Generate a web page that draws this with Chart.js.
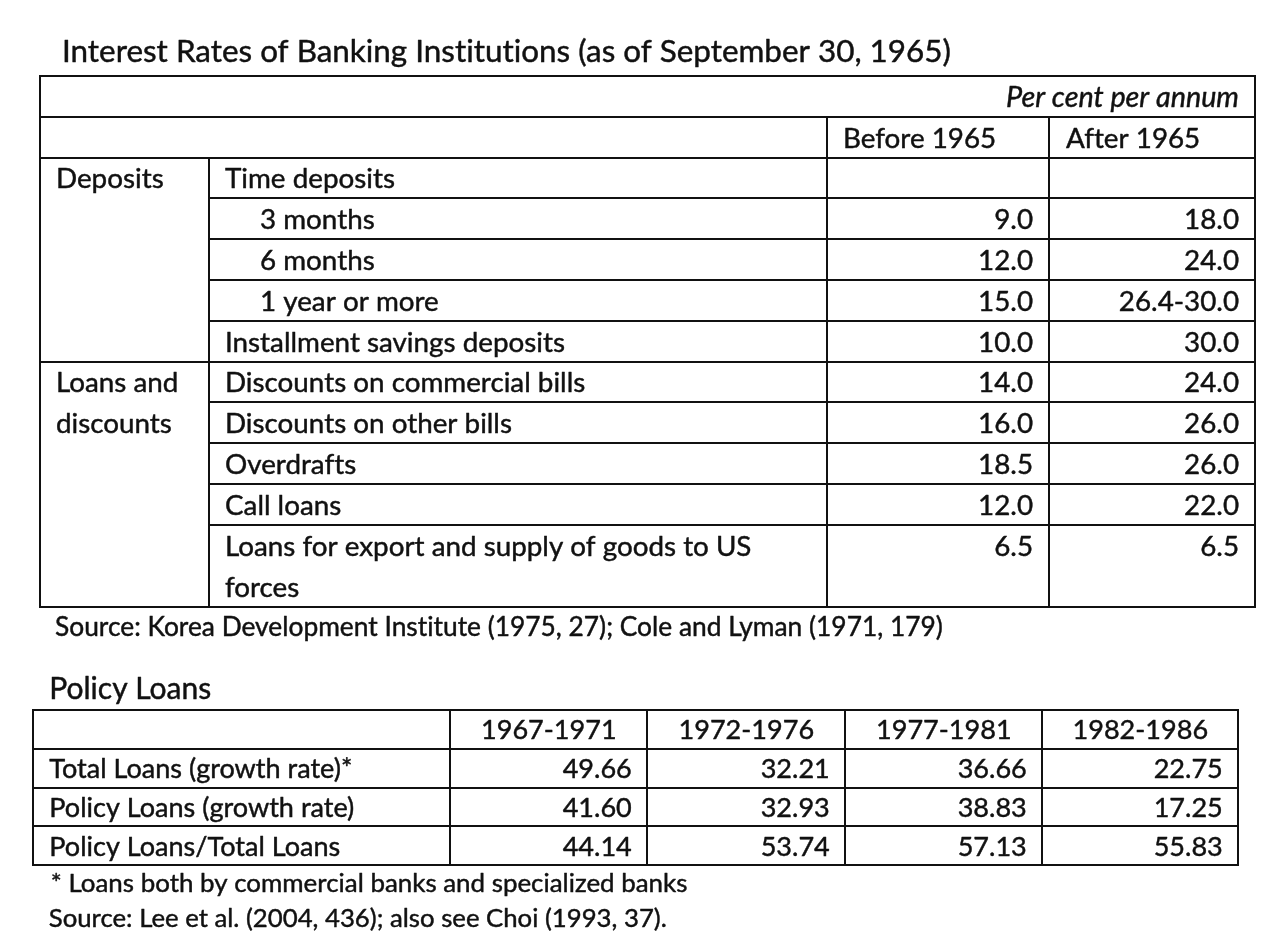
<!DOCTYPE html>
<html>
<head>
<meta charset="utf-8">
<script src="https://cdn.jsdelivr.net/npm/chart.js@4.4.1/dist/chart.umd.min.js"></script>
<style>
  html, body { margin: 0; padding: 0; background: #ffffff; }
  body { width: 1280px; height: 946px; position: relative; overflow: hidden; }
  canvas { position: absolute; left: 0; }
  #c1 { top: 0; }
  #c2 { top: 650px; }
</style>
</head>
<body>
<canvas id="c1" width="1280" height="650"></canvas>
<canvas id="c2" width="1280" height="296"></canvas>
<script>
// ---------------- DATA: table 1 ----------------
const title1 = "Interest Rates of Banking Institutions (as of September 30, 1965)";
const unitLabel1 = "Per cent per annum";
const periods1 = ["Before 1965", "After 1965"];
const groups1 = ["Deposits", "Loans and\ndiscounts"];
const groupItemCounts1 = [5, 5];
const items1 = [
  "Time deposits",
  "3 months",
  "6 months",
  "1 year or more",
  "Installment savings deposits",
  "Discounts on commercial bills",
  "Discounts on other bills",
  "Overdrafts",
  "Call loans",
  "Loans for export and supply of goods to US\nforces"
];
const itemIsSub1 = [false, true, true, true, false, false, false, false, false, false];
const before1965 = [null, 9.0, 12.0, 15.0, 10.0, 14.0, 16.0, 18.5, 12.0, 6.5];
const after1965 = [null, 18.0, 24.0, [26.4, 30.0], 30.0, 24.0, 26.0, 26.0, 22.0, 6.5];
const source1 = "Source: Korea Development Institute (1975, 27); Cole and Lyman (1971, 179)";

// ---------------- DATA: table 2 ----------------
const title2 = "Policy Loans";
const periods2 = ["1967-1971", "1972-1976", "1977-1981", "1982-1986"];
const rows2 = ["Total Loans (growth rate)*", "Policy Loans (growth rate)", "Policy Loans/Total Loans"];
const totalLoansGrowth = [49.66, 32.21, 36.66, 22.75];
const policyLoansGrowth = [41.60, 32.93, 38.83, 17.25];
const policyLoansShare = [44.14, 53.74, 57.13, 55.83];
const note2 = "* Loans both by commercial banks and specialized banks";
const source2 = "Source: Lee et al. (2004, 436); also see Choi (1993, 37).";

// ---------------- LAYOUT / STYLE ----------------
const FONT = "Lato, 'Open Sans', sans-serif";
const TEXT_COLOR = "#111111";
const LINE_COLOR = "#111111";
const LINE_W = 2;
const TEXT_STROKE = 0.45;
const colWidths1 = [169, 618, 222, 206];
const colWidths2 = [417, 197, 198, 197, 196];
const PAD = 16;
const SUB_INDENT = 35;
const BASE = 0.755;

function fmt1(v) {
  if (v === null || v === undefined) return "";
  if (Array.isArray(v)) return v.map(x => x.toFixed(1)).join("-");
  return v.toFixed(1);
}
function fmt2(v) { return v.toFixed(2); }
function cumulative(ws) { const out = [0]; ws.forEach(w => out.push(out[out.length - 1] + w)); return out; }

function noLigatures(ctx) {
  try { ctx.textRendering = "optimizeSpeed"; } catch (e) {}
}

const measureCtx = document.createElement("canvas").getContext("2d");
function fit(text, target, italic) {
  noLigatures(measureCtx);
  measureCtx.font = (italic ? "italic " : "") + "100px " + FONT;
  return 100 * target / measureCtx.measureText(text).width;
}

function hline(ctx, chart, y, x0, x1) {
  const sx = chart.scales.x, sy = chart.scales.y;
  const py = Math.round(sy.getPixelForValue(y));
  ctx.beginPath();
  ctx.moveTo(Math.round(sx.getPixelForValue(x0)), py);
  ctx.lineTo(Math.round(sx.getPixelForValue(x1)), py);
  ctx.stroke();
}
function vline(ctx, chart, x, y0, y1) {
  const sx = chart.scales.x, sy = chart.scales.y;
  const px = Math.round(sx.getPixelForValue(x));
  ctx.beginPath();
  ctx.moveTo(px, Math.round(sy.getPixelForValue(y0)));
  ctx.lineTo(px, Math.round(sy.getPixelForValue(y1)));
  ctx.stroke();
}
function text(ctx, str, x, y, align, size, italic) {
  noLigatures(ctx);
  ctx.font = (italic ? "italic " : "") + size.toFixed(2) + "px " + FONT;
  ctx.textAlign = align;
  ctx.textBaseline = "alphabetic";
  ctx.fillStyle = TEXT_COLOR;
  ctx.fillText(str, x, y);
  ctx.save();
  ctx.lineWidth = TEXT_STROKE;
  ctx.strokeStyle = TEXT_COLOR;
  ctx.lineJoin = "round";
  ctx.strokeText(str, x, y);
  ctx.restore();
}

function init() {
  const sizes = {
    title1: fit(title1, 889),
    body1: fit(items1[4], 340),
    unit1: fit(unitLabel1, 233, true),
    source1: fit(source1, 888),
    title2: fit(title2, 162),
    body2: fit(rows2[2], 291),
    note2: fit(note2, 637),
    source2: fit(source2, 618)
  };

  // ----- table 1 structure -----
  const itemLines = items1.map(s => s.split("\n"));
  const itemStart = [];
  let r = 2;
  itemLines.forEach(l => { itemStart.push(r); r += l.length; });
  const totalRows1 = r;
  const groupStart = [], groupEnd = [];
  let gi = 0;
  groupItemCounts1.forEach(n => {
    groupStart.push(itemStart[gi]);
    groupEnd.push(itemStart[gi + n - 1] + itemLines[gi + n - 1].length);
    gi += n;
  });
  const cols1 = cumulative(colWidths1);
  const values1 = [before1965, after1965];

  const table1Plugin = {
    id: "table1",
    afterDraw(chart) {
      const ctx = chart.ctx;
      const sx = chart.scales.x, sy = chart.scales.y;
      const unit = Math.abs(sy.getPixelForValue(1) - sy.getPixelForValue(0));
      const a = chart.chartArea;
      ctx.save();
      ctx.strokeStyle = LINE_COLOR;
      ctx.lineWidth = LINE_W;
      ctx.lineCap = "square";
      const right = cols1[cols1.length - 1];
      [0, 1, 2].forEach(y => hline(ctx, chart, y, 0, right));
      itemStart.forEach((s, i) => {
        if (i === 0) return;
        const full = groupStart.includes(s);
        hline(ctx, chart, s, full ? 0 : cols1[1], right);
      });
      hline(ctx, chart, totalRows1, 0, right);
      vline(ctx, chart, 0, 0, totalRows1);
      vline(ctx, chart, right, 0, totalRows1);
      vline(ctx, chart, cols1[1], 2, totalRows1);
      vline(ctx, chart, cols1[2], 1, totalRows1);
      vline(ctx, chart, cols1[3], 1, totalRows1);

      // title and source
      text(ctx, title1, a.left + 22, a.top - 14, "left", sizes.title1);
      text(ctx, source1, a.left + 15, a.bottom + 29.5, "left", sizes.source1);

      // unit label
      text(ctx, unitLabel1, sx.getPixelForValue(right) - PAD, sy.getPixelForValue(0) + BASE * unit, "right", sizes.unit1, true);
      // period headers
      periods1.forEach((p, k) => {
        text(ctx, p, sx.getPixelForValue(cols1[2 + k]) + PAD + (k === 1 ? 1 : 0), sy.getPixelForValue(1) + BASE * unit, "left", sizes.body1);
      });
      // groups
      groups1.forEach((g, k) => {
        g.split("\n").forEach((line, j) => {
          text(ctx, line, sx.getPixelForValue(cols1[0]) + PAD, sy.getPixelForValue(groupStart[k] + j) + BASE * unit, "left", sizes.body1);
        });
      });
      // items and values
      itemLines.forEach((lines, i) => {
        lines.forEach((line, j) => {
          text(ctx, line, sx.getPixelForValue(cols1[1]) + PAD + (itemIsSub1[i] ? SUB_INDENT : 0),
               sy.getPixelForValue(itemStart[i] + j) + BASE * unit, "left", sizes.body1);
        });
        values1.forEach((series, k) => {
          const s = fmt1(series[i]);
          if (s) text(ctx, s, sx.getPixelForValue(cols1[3 + k]) - PAD, sy.getPixelForValue(itemStart[i]) + BASE * unit, "right", sizes.body1);
        });
      });
      ctx.restore();
    }
  };

  // ----- table 2 structure -----
  const cols2 = cumulative(colWidths2);
  const series2 = [totalLoansGrowth, policyLoansGrowth, policyLoansShare];
  const totalRows2 = rows2.length + 1;

  const table2Plugin = {
    id: "table2",
    afterDraw(chart) {
      const ctx = chart.ctx;
      const sx = chart.scales.x, sy = chart.scales.y;
      const unit = Math.abs(sy.getPixelForValue(1) - sy.getPixelForValue(0));
      const a = chart.chartArea;
      const right = cols2[cols2.length - 1];
      ctx.save();
      ctx.strokeStyle = LINE_COLOR;
      ctx.lineWidth = LINE_W;
      ctx.lineCap = "square";
      for (let y = 0; y <= totalRows2; y++) hline(ctx, chart, y, 0, right);
      cols2.forEach(c => vline(ctx, chart, c, 0, totalRows2));

      text(ctx, title2, a.left + 16, a.top - 10.7, "left", sizes.title2);
      text(ctx, note2, a.left + 17.5, a.bottom + 26.7, "left", sizes.note2);
      text(ctx, source2, a.left + 15.5, a.bottom + 61.7, "left", sizes.source2);

      periods2.forEach((p, k) => {
        const cx = (sx.getPixelForValue(cols2[1 + k]) + sx.getPixelForValue(cols2[2 + k])) / 2;
        text(ctx, p, cx, sy.getPixelForValue(0) + BASE * unit, "center", sizes.body2);
      });
      rows2.forEach((lab, i) => {
        const by = sy.getPixelForValue(i + 1) + BASE * unit;
        text(ctx, lab, sx.getPixelForValue(0) + PAD, by, "left", sizes.body2);
        series2[i].forEach((v, k) => {
          text(ctx, fmt2(v), sx.getPixelForValue(cols2[2 + k]) - 15.5, by, "right", sizes.body2);
        });
      });
      ctx.restore();
    }
  };

  function makeChart(id, padding, xMax, yMax, plugin) {
    return new Chart(document.getElementById(id), {
      type: "scatter",
      data: { datasets: [] },
      options: {
        responsive: false,
        animation: false,
        events: [],
        layout: { padding },
        plugins: { legend: { display: false }, tooltip: { enabled: false }, title: { display: false } },
        scales: {
          x: { type: "linear", min: 0, max: xMax, display: false },
          y: { type: "linear", min: 0, max: yMax, reverse: true, display: false }
        }
      },
      plugins: [plugin]
    });
  }

  makeChart("c1", { left: 40, right: 25, top: 76, bottom: 43.5 }, cols1[cols1.length - 1], totalRows1, table1Plugin);
  makeChart("c2", { left: 33.3, right: 41.7, top: 60, bottom: 81 }, cols2[cols2.length - 1], totalRows2, table2Plugin);
}

let started = false;
function start() { if (!started) { started = true; init(); } }
if (document.fonts && document.fonts.load) {
  Promise.all([document.fonts.load("20px Lato"), document.fonts.load("italic 20px Lato")])
    .then(start, start);
  setTimeout(start, 1500);
} else {
  start();
}
</script>
</body>
</html>
